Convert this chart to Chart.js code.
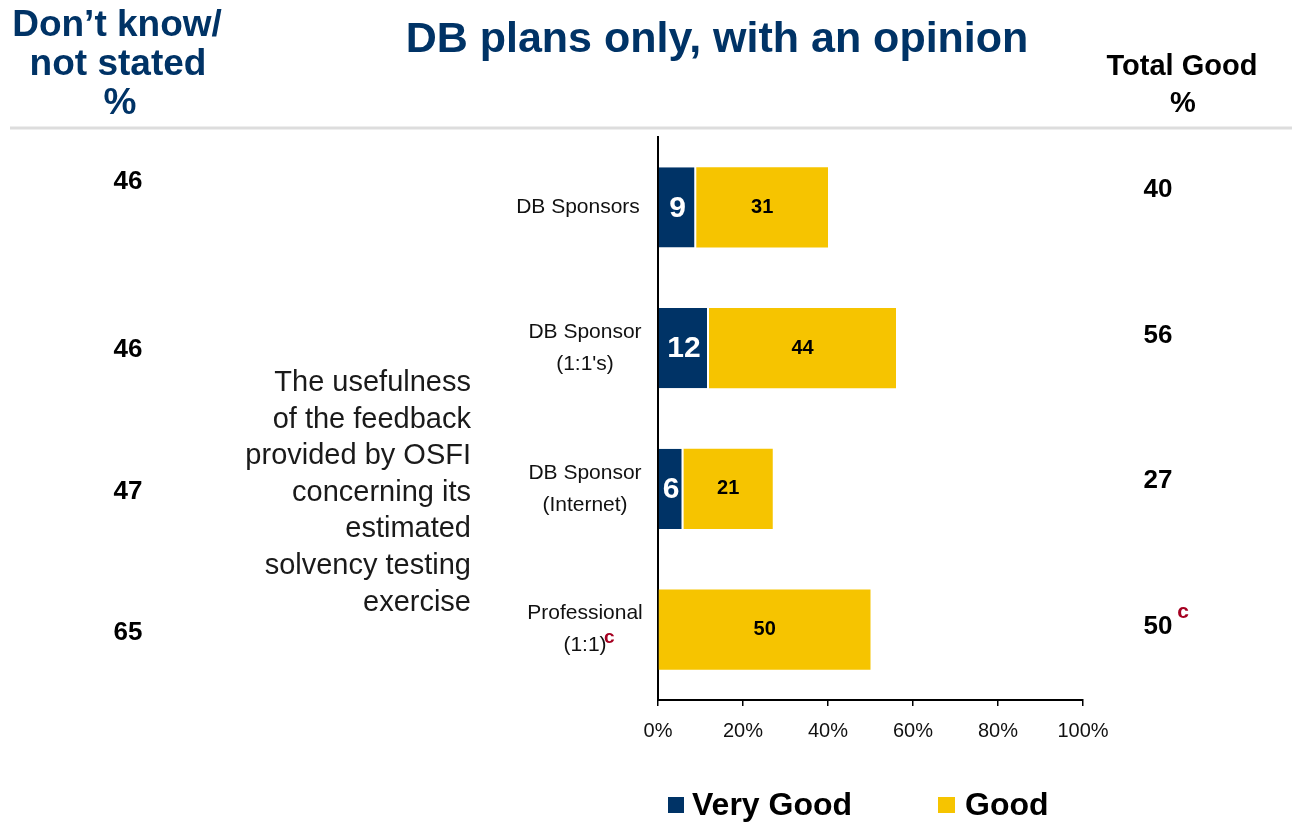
<!DOCTYPE html>
<html>
<head>
<meta charset="utf-8">
<title>DB plans only, with an opinion</title>
<script src="https://cdn.jsdelivr.net/npm/chart.js@4.4.1/dist/chart.umd.min.js"></script>
<style>
  html, body { margin: 0; padding: 0; background: #fff; }
  #wrap { width: 1292px; height: 822px; position: relative; }
</style>
</head>
<body>
<div id="wrap"><canvas id="myChart" width="1292" height="822"></canvas></div>
<script>
// groups shown on the y axis (each entry is one or more lines)
const groups = [["DB Sponsors"], ["DB Sponsor", "(1:1's)"], ["DB Sponsor", "(Internet)"], ["Professional", "(1:1)"]];
const veryGood = [9, 12, 6, 0];
const good = [31, 44, 21, 50];
const totalGood = [40, 56, 27, 50];
const dontKnow = [46, 46, 47, 65];
const xTicks = [0, 20, 40, 60, 80, 100];
const question = ["The usefulness", "of the feedback", "provided by OSFI", "concerning its", "estimated", "solvency testing", "exercise"];

const NAVY = "#003366";
const GOLD = "#F6C400";
const RED = "#A50021";
const FONT = "'Liberation Sans', Arial, sans-serif";

const ctx = document.querySelector("#myChart");

// everything around the bars: headers, side columns, labels, legend
const extras = {
    id: "extras",
    afterDraw(chart) {
        const c = chart.ctx;
        const y = chart.scales.y;
        c.save();

        // header rule
        c.strokeStyle = "#dddddd";
        c.lineWidth = 3;
        c.beginPath();
        c.moveTo(10, 128);
        c.lineTo(1292, 128);
        c.stroke();

        c.textBaseline = "middle";
        c.textAlign = "center";

        c.fillStyle = NAVY;
        c.font = "bold 43px " + FONT;
        c.fillText("DB plans only, with an opinion", 717, 40);

        c.font = "bold 37px " + FONT;
        c.fillText("Don\u2019t know/", 117, 26);
        c.fillText("not stated", 118, 65);
        c.fillText("%", 120, 104);

        c.fillStyle = "#000";
        c.font = "bold 29px " + FONT;
        c.fillText("Total Good", 1182, 67);
        c.fillText("%", 1183, 104);

        // side columns
        const leftY = [182, 350, 492, 633];
        const rightY = [190, 336, 481, 627];
        c.font = "bold 26px " + FONT;
        dontKnow.forEach((v, i) => c.fillText(v, 128, leftY[i]));
        totalGood.forEach((v, i) => c.fillText(v, 1158, rightY[i]));
        c.fillStyle = RED;
        c.font = "bold 21px " + FONT;
        c.fillText("c", 1183, 612);

        // question text
        c.fillStyle = "#1a1a1a";
        c.textAlign = "right";
        c.font = "29px " + FONT;
        question.forEach((t, i) => c.fillText(t, 471, 383 + i * 36.6));

        // category labels
        c.textAlign = "center";
        c.font = "21px " + FONT;
        groups.forEach((lines, i) => {
            const py = y.getPixelForValue(i);
            const cx = lines.length > 1 ? 585 : 578;
            lines.forEach((t, k) => {
                c.fillStyle = "#111";
                c.fillText(t, cx, py + (k - (lines.length - 1) / 2) * 32);
            });
        });
        // footnote marker on the last group
        c.fillStyle = RED;
        c.font = "bold 19px " + FONT;
        c.textAlign = "left";
        c.fillText("c", 604, y.getPixelForValue(3) + 8);

        // x tick labels
        const x = chart.scales.x;
        c.fillStyle = "#111";
        c.textAlign = "center";
        c.font = "20px " + FONT;
        xTicks.forEach(v => c.fillText(v + "%", x.getPixelForValue(v), 731));

        // values inside the bars
        chart.data.datasets.forEach((ds, di) => {
            const meta = chart.getDatasetMeta(di);
            meta.data.forEach((bar, i) => {
                const v = ds.data[i];
                if (!v) return;
                const mid = (bar.x + bar.base) / 2;
                if (di === 0) {
                    c.fillStyle = "#fff";
                    c.font = "bold 30px " + FONT;
                    c.fillText(v, mid, bar.y + 1);
                } else {
                    c.fillStyle = "#000";
                    c.font = "bold 20px " + FONT;
                    c.fillText(v, mid, bar.y);
                }
            });
        });

        // legend
        c.textAlign = "left";
        c.font = "bold 32px " + FONT;
        c.fillStyle = NAVY;
        c.fillRect(668, 797, 16, 16);
        c.fillStyle = "#000";
        c.fillText("Very Good", 692, 806);
        c.fillStyle = GOLD;
        c.fillRect(938, 797, 17, 16);
        c.fillStyle = "#000";
        c.fillText("Good", 965, 806);

        c.restore();
    }
};

new Chart(ctx, {
    type: "bar",
    data: {
        labels: groups.map(g => g.join(" ")),
        datasets: [{
            label: "Very Good",
            data: veryGood,
            backgroundColor: NAVY,
            borderColor: "#fff",
            borderWidth: { right: 2, left: 0, top: 0, bottom: 0 },
            borderSkipped: false,
            barPercentage: 0.57,
            categoryPercentage: 1
        }, {
            label: "Good",
            data: good,
            backgroundColor: GOLD,
            borderWidth: 0,
            barPercentage: 0.57,
            categoryPercentage: 1
        }]
    },
    options: {
        indexAxis: "y",
        responsive: false,
        animation: false,
        layout: { padding: { top: 137, right: 209, left: 0, bottom: 0 } },
        plugins: {
            legend: { display: false },
            tooltip: { enabled: false }
        },
        scales: {
            x: {
                stacked: true,
                min: 0,
                max: 100,
                afterBuildTicks: (s) => { s.ticks = xTicks.map(v => ({ value: v })); },
                afterFit: (s) => { s.height = 122; },
                border: { color: "#000", width: 2 },
                grid: { drawOnChartArea: false, drawTicks: true, tickLength: 6, color: "#000", lineWidth: 1.5 },
                ticks: { display: false }
            },
            y: {
                stacked: true,
                afterFit: (s) => { s.width = 658; },
                border: { color: "#000", width: 2 },
                grid: { display: false },
                ticks: { display: false }
            }
        }
    },
    plugins: [extras]
});
</script>
</body>
</html>
